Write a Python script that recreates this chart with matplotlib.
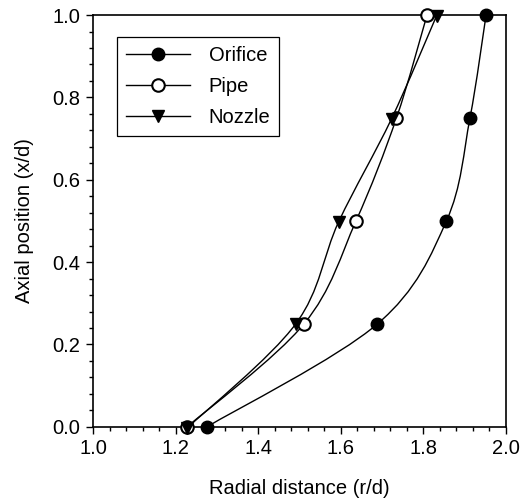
import numpy as np
import matplotlib
matplotlib.use("Agg")
import matplotlib.pyplot as plt
from matplotlib.path import Path
from matplotlib.patches import PathPatch
from matplotlib.lines import Line2D
from matplotlib.ticker import MultipleLocator

plt.rcParams['font.family'] = ['Liberation Sans', 'DejaVu Sans']

axial = [0.0, 0.25, 0.5, 0.75, 1.0]
orifice_r = [1.276, 1.689, 1.856, 1.913, 1.952]
pipe_r = [1.228, 1.511, 1.637, 1.735, 1.809]
nozzle_r = [1.228, 1.491, 1.595, 1.723, 1.832]
nozzle_y = [-0.003, 0.25, 0.498, 0.748, 0.998]

series = [
    ("Orifice", orifice_r, axial, dict(marker='o', mfc='black', mec='black')),
    ("Pipe", pipe_r, axial, dict(marker='o', mfc='white', mec='black', mew=1.5)),
    ("Nozzle", nozzle_r, nozzle_y, dict(marker='v', mfc='black', mec='black')),
]


def smooth_path(x, y):
    # catmull-rom through the points, written as cubic bezier segments
    pts = np.column_stack([x, y])
    ext = np.vstack([pts[0], pts, pts[-1]])
    verts = [pts[0]]
    codes = [Path.MOVETO]
    for i in range(1, len(ext) - 2):
        p0, p1, p2, p3 = ext[i - 1], ext[i], ext[i + 1], ext[i + 2]
        verts += [p1 + (p2 - p0) / 6, p2 - (p3 - p1) / 6, p2]
        codes += [Path.CURVE4] * 3
    return Path(verts, codes)


fs = 14.5
fig = plt.figure(figsize=(5.21, 5.01), dpi=100)
ax = fig.add_axes([0.1785, 0.148, 0.7925, 0.822])

handles = []
for name, xs, ys, style in series:
    ax.add_patch(PathPatch(smooth_path(xs, ys), fill=False, lw=1.0, ec='black', zorder=2))
    ax.plot(xs, ys, ls='none', ms=9, zorder=3, clip_on=False, **style)
    handles.append(Line2D([], [], color='black', lw=1.0, ms=9, **style))

ax.set_xlim(1.0, 2.0)
ax.set_ylim(0.0, 1.0)
ax.xaxis.set_major_locator(MultipleLocator(0.2))
ax.xaxis.set_minor_locator(MultipleLocator(0.04))
ax.yaxis.set_major_locator(MultipleLocator(0.2))
ax.yaxis.set_minor_locator(MultipleLocator(0.04))
ax.tick_params(which='both', direction='out', top=False, right=False, labelsize=fs, width=1.0)
ax.tick_params(which='major', length=5, pad=4)
ax.tick_params(which='minor', length=3)
for s in ax.spines.values():
    s.set_linewidth(1.2)

ax.set_xlabel("Radial distance (r/d)", fontsize=fs, labelpad=15)
ax.set_ylabel("Axial position (x/d)", fontsize=fs, labelpad=13)

leg = ax.legend(handles, [s[0] for s in series], loc='upper left',
                bbox_to_anchor=(0.058, 0.947), borderaxespad=0, fontsize=fs,
                handlelength=3.2, fancybox=False, edgecolor='black', framealpha=1,
                borderpad=0.45, labelspacing=0.6, handletextpad=0.9)
leg.get_frame().set_linewidth(0.9)

plt.savefig("out.png", dpi=100)
plt.close()
